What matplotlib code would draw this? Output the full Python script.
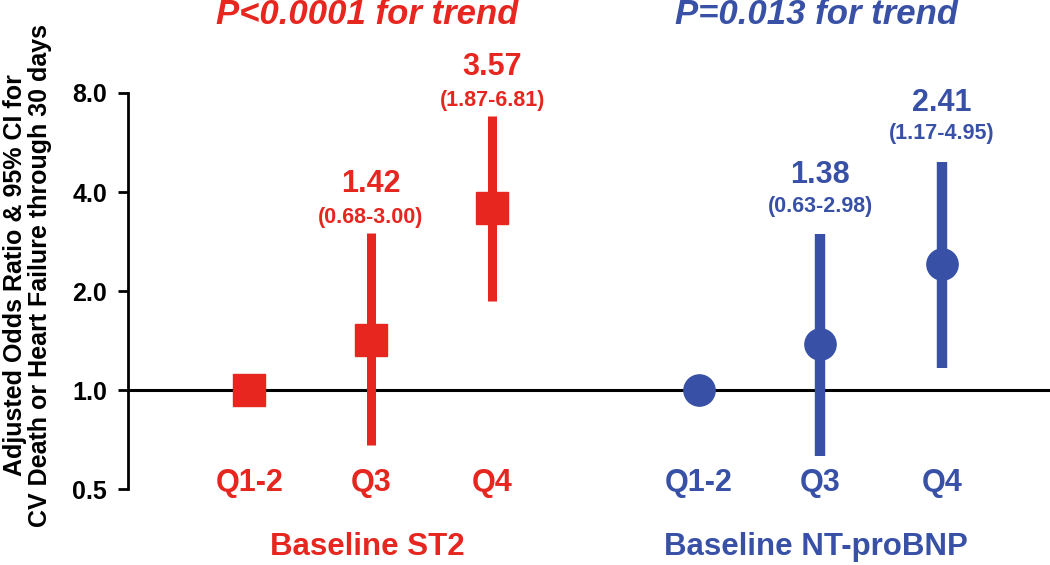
import matplotlib
matplotlib.use("Agg")
import matplotlib.pyplot as plt
from matplotlib.ticker import FixedLocator, FixedFormatter, NullLocator

plt.rcParams['font.family'] = ['Liberation Sans', 'DejaVu Sans']

# data
quartiles = ["Q1-2", "Q3", "Q4"]
st2_or = [1.00, 1.42, 3.57]
st2_lo = [None, 0.68, 1.87]
st2_hi = [None, 3.00, 6.81]
nt_or = [1.00, 1.38, 2.41]
nt_lo = [None, 0.63, 1.17]
nt_hi = [None, 2.98, 4.95]
y_ticks = [0.5, 1.0, 2.0, 4.0, 8.0]

red = "#e6261f"
blue = "#3851a6"

st2_x = [0, 1, 2]
nt_x = [3.7, 4.7, 5.7]

fig = plt.figure(figsize=(10.5, 5.65), dpi=100)
ax = fig.add_axes([0.1219, 0.1345, 0.8781, 0.7009])
ax.set_yscale("log")
ax.set_ylim(0.5, 8.0)
ax.set_xlim(-1.0, 6.59)

ax.axhline(1.0, color="black", lw=2.2, zorder=1)

def draw_group(xs, ors, los, his, color, marker, ms, lw, off_val, off_ci):
    for x, o, lo, hi in zip(xs, ors, los, his):
        if lo is not None:
            ax.plot([x, x], [lo, hi], color=color, lw=lw, solid_capstyle="butt", zorder=2)
            ax.annotate(f"{o:.2f}", (x, hi), xytext=(0, off_val), textcoords="offset points",
                        ha="center", va="center", color=color, fontsize=22, fontweight="bold")
            ax.annotate(f"({lo:.2f}-{hi:.2f})", (x, hi), xytext=(0, off_ci), textcoords="offset points",
                        ha="center", va="center", color=color, fontsize=15.5, fontweight="bold")
        ax.plot([x], [o], marker=marker, ms=ms, color=color, mec=color, zorder=3, ls="none")

draw_group(st2_x, st2_or, st2_lo, st2_hi, red, "s", 23, 6.5, 35, 11)
draw_group(nt_x, nt_or, nt_lo, nt_hi, blue, "o", 22.5, 7.5, 42.5, 20)

# quartile labels
for xs, color in [(st2_x, red), (nt_x, blue)]:
    for x, q in zip(xs, quartiles):
        ax.annotate(q, (x, 0.5), xytext=(0, 4), textcoords="offset points",
                    ha="center", va="center", color=color, fontsize=22, fontweight="bold")

fig.text(367 / 1050, 1 - 547 / 565, "Baseline ST2", ha="center", va="center",
         color=red, fontsize=22.5, fontweight="bold")
fig.text(816 / 1050, 1 - 547 / 565, "Baseline NT-proBNP", ha="center", va="center",
         color=blue, fontsize=22.5, fontweight="bold")
fig.text(367 / 1050, 1 - 15 / 565, "P<0.0001 for trend", ha="center", va="center",
         color=red, fontsize=25, fontweight="bold", style="italic")
fig.text(817 / 1050, 1 - 15 / 565, "P=0.013 for trend", ha="center", va="center",
         color=blue, fontsize=25, fontweight="bold", style="italic")

ax.yaxis.set_major_locator(FixedLocator(y_ticks))
ax.yaxis.set_major_formatter(FixedFormatter([f"{t:.1f}" for t in y_ticks]))
ax.yaxis.set_minor_locator(NullLocator())
ax.set_xticks([])
for s in ["top", "right", "bottom"]:
    ax.spines[s].set_visible(False)
ax.spines["left"].set_linewidth(2)
ax.tick_params(axis="y", length=7, width=2, labelsize=18, pad=8)
for lab in ax.get_yticklabels():
    lab.set_fontweight("bold")

ax.set_ylabel("Adjusted Odds Ratio & 95% CI for\nCV Death or Heart Failure through 30 days",
              fontsize=18, fontweight="bold", linespacing=1.05)
ax.yaxis.set_label_coords(-0.082, 0.54)

fig.savefig("out.png", dpi=100)
